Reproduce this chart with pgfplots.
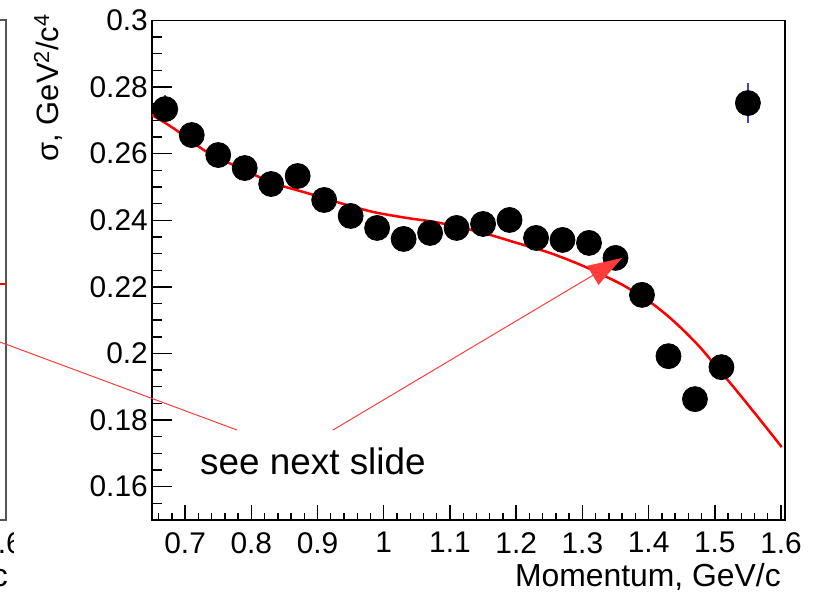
\documentclass[border=0pt]{standalone}
\usepackage{pgfplots}
\pgfplotsset{compat=1.18}
\usepackage{fontspec}
\setmainfont{Liberation Sans}
\usetikzlibrary{arrows.meta}
\definecolor{fitred}{RGB}{255,0,0}
\definecolor{arrred}{RGB}{255,60,60}
\definecolor{errblue}{RGB}{70,70,200}
\definecolor{framegray}{RGB}{85,85,85}
\begin{document}
\begin{tikzpicture}
% fragment of the neighbouring panel on the left
\begin{scope}
\clip (0bp,0bp) rectangle (13bp,594bp);
\draw[line width=1.6bp, framegray] (-30bp,574bp) -- (6bp,574bp) -- (6bp,74bp) -- (-30bp,74bp);
\draw[line width=1.6bp, fitred] (0bp,310bp) -- (5bp,310bp);
\node[inner sep=0pt, anchor=center, font=\fontsize{30}{36}\selectfont] at (2bp,51bp) {1.6};
\node[inner sep=0pt, anchor=north east, font=\fontsize{32}{38}\selectfont] at (8bp,31bp) {Momentum, GeV/c};
\end{scope}
% y ticks axis
\begin{axis}[
  at={(152bp,74bp)}, anchor=south west,
  scale only axis, width=633bp, height=499.5bp,
  xmin=0.65, xmax=1.606, ymin=0.15, ymax=0.3,
  axis line style={line width=1.6bp},
  every tick/.style={line width=1.4bp, black},
  tick align=inside,
  xtick=\empty,
  ytick={0.16,0.18,0.2,0.22,0.24,0.26,0.28,0.3},
  yticklabels={0.16,0.18,0.2,0.22,0.24,0.26,0.28,0.3},
  minor ytick={0.155,0.165,0.17,0.175,0.185,0.19,0.195,0.205,0.21,0.215,0.225,0.23,0.235,0.245,0.25,0.255,0.265,0.27,0.275,0.285,0.29,0.295},
  ytick pos=left,
  major tick length=20bp, minor tick length=10bp,
  yticklabel style={font=\fontsize{30}{36}\selectfont, inner sep=0pt, anchor=east, xshift=-4bp},
]
\end{axis}
% data axis with x ticks
\begin{axis}[
  at={(152bp,74bp)}, anchor=south west,
  scale only axis, width=633bp, height=499.5bp,
  xmin=0.65, xmax=1.606, ymin=0.15, ymax=0.3,
  axis line style={line width=1.6bp},
  every tick/.style={line width=1.4bp, black},
  tick align=inside,
  ytick=\empty,
  xtick={0.7,0.8,0.9,1.0,1.1,1.2,1.3,1.4,1.5,1.6},
  xticklabels={0.7,0.8,0.9,1,1.1,1.2,1.3,1.4,1.5,1.6},
  minor xtick={0.66,0.68,0.72,0.74,0.76,0.78,0.82,0.84,0.86,0.88,0.92,0.94,0.96,0.98,1.02,1.04,1.06,1.08,1.12,1.14,1.16,1.18,1.22,1.24,1.26,1.28,1.32,1.34,1.36,1.38,1.42,1.44,1.46,1.48,1.52,1.54,1.56,1.58},
  xtick pos=bottom,
  major tick length=15bp, minor tick length=7.5bp,
  xticklabel style={font=\fontsize{30}{36}\selectfont, inner sep=0pt, anchor=north, yshift=-12bp},
  clip=false,
]
% error bars (drawn first, hidden behind markers)
\addplot[draw=none, mark=none, forget plot,
  error bars/.cd, y dir=both, y explicit, error mark=none,
  error bar style={draw=errblue, solid, line width=1.5bp}]
  coordinates {
  (0.67,0.2734) +- (0,0.0042)
  (0.71,0.2656) +- (0,0.003)
  (0.75,0.2596) +- (0,0.003)
  (0.79,0.2557) +- (0,0.003)
  (0.83,0.2509) +- (0,0.003)
  (0.87,0.2533) +- (0,0.003)
  (0.91,0.2461) +- (0,0.003)
  (0.95,0.2413) +- (0,0.003)
  (0.99,0.2377) +- (0,0.003)
  (1.03,0.2344) +- (0,0.003)
  (1.07,0.2362) +- (0,0.003)
  (1.11,0.2377) +- (0,0.003)
  (1.15,0.2389) +- (0,0.003)
  (1.19,0.2401) +- (0,0.003)
  (1.23,0.2347) +- (0,0.003)
  (1.27,0.2341) +- (0,0.003)
  (1.31,0.2332) +- (0,0.003)
  (1.35,0.2287) +- (0,0.003)
  (1.39,0.2176) +- (0,0.003)
  (1.43,0.1992) +- (0,0.003)
  (1.47,0.1863) +- (0,0.003)
  (1.51,0.1959) +- (0,0.003)
  (1.55,0.2752) +- (0,0.006)
  };
% data points
\addplot[only marks, mark=*, mark size=12.5bp, mark options={fill=black, draw=black, line width=0.8bp}]
  coordinates {
  (0.67,0.2734) (0.71,0.2656) (0.75,0.2596) (0.79,0.2557) (0.83,0.2509)
  (0.87,0.2533) (0.91,0.2461) (0.95,0.2413) (0.99,0.2377) (1.03,0.2344)
  (1.07,0.2362) (1.11,0.2377) (1.15,0.2389) (1.19,0.2401) (1.23,0.2347)
  (1.27,0.2341) (1.31,0.2332) (1.35,0.2287) (1.39,0.2176) (1.43,0.1992)
  (1.47,0.1863) (1.51,0.1959) (1.55,0.2752)
  };
% fit curve
\addplot[fitred, line width=2.5bp, smooth, tension=0.5, mark=none]
  coordinates {
  (0.650,0.2716) (0.682,0.2677) (0.733,0.2605) (0.783,0.2557) (0.833,0.2512)
  (0.884,0.2482) (0.934,0.2452) (0.984,0.2425) (1.035,0.2407) (1.085,0.2392)
  (1.150,0.2362) (1.201,0.2332) (1.251,0.2302) (1.301,0.2263) (1.352,0.2215)
  (1.377,0.2187) (1.402,0.2155) (1.427,0.2116) (1.452,0.2071) (1.478,0.2018)
  (1.503,0.1959) (1.528,0.1900) (1.553,0.1839) (1.578,0.1777) (1.601,0.1719)
  };
\end{axis}
% axis titles
\node[inner sep=0pt, anchor=north east, font=\fontsize{32}{38}\selectfont] at (781bp,31bp) {Momentum, GeV/c};
\node[rotate=90, inner sep=0pt, anchor=base east, font=\fontsize{31}{36}\selectfont] at (58bp,580bp) {σ, GeV\textsuperscript{2}/c\textsuperscript{4}};
% annotation
\draw[arrred, line width=1bp] (0bp,252bp) -- (237bp,164bp);
\draw[arrred, line width=1bp, -{Triangle[length=34bp,width=22bp]}] (333bp,164bp) -- (622bp,336bp);
\node[inner sep=0pt, anchor=base west, font=\fontsize{37}{44}\selectfont] at (200bp,119bp) {see next slide};
\pgfresetboundingbox
\path[use as bounding box] (0bp,0bp) rectangle (816bp,594bp);
\end{tikzpicture}
\end{document}
